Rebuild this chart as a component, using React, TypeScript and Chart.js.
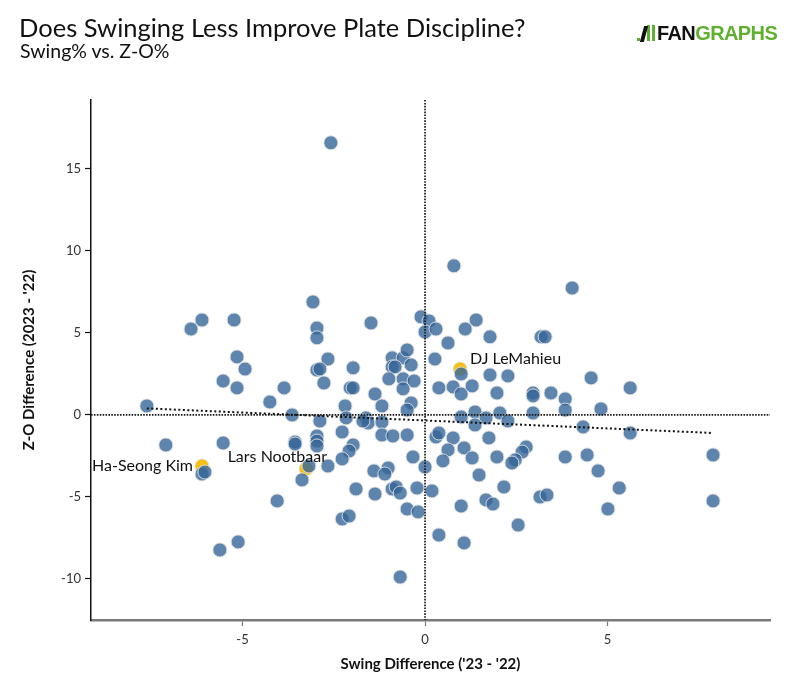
import React, { useEffect, useRef } from "react";
import { Chart, registerables } from "chart.js";

Chart.register(...registerables);

const swingDiff: number[] = [
  -2.58, 0.79, 4.03, -3.07, -6.11, -6.41, -5.23, -1.48, -2.96, -2.96,
  -0.11, 0.11, 0.0, 0.3, 1.1, 1.4, 1.78, 3.18, 3.29, 0.63,
  -5.15, -4.93, -2.66, -2.96, -2.88, -1.97, -0.9, -0.6, -0.49, -0.38,
  -0.9, -0.82, 0.27, -5.53, -5.15, -3.86, -4.25, -2.77, -2.05, -1.97,
  -1.37, -2.19, -1.18, -0.99, -0.6, -0.3, -0.6, -0.38, -0.49, 0.38,
  0.77, 0.99, 0.99, 1.78, 2.27, 4.55, 5.62, 1.29, 1.97, 2.96,
  2.96, 3.45, 3.84, 4.82, 3.84, 0.99, 1.37, 1.67, 2.05, 2.27,
  2.96, 4.33, 5.62, 1.37, -7.62, -3.64, -2.88, -2.16, -1.62, -1.56,
  -1.7, -1.18, -2.27, -1.18, -0.88, -0.49, 0.3, 0.38, 0.77, 1.75,
  -7.1, -5.53, -3.56, -3.56, -2.96, -2.96, -2.96, -1.97, -2.08, -2.27,
  -2.66, -3.18, -3.37, -1.4, -1.01, -1.1, -0.33, 0.0, 0.63, 1.07,
  1.29, 0.49, 1.97, 2.77, 2.66, 2.47, 2.38, 3.84, 4.44, 4.74,
  1.48, 7.89, 7.89, -6.11, -6.03, -1.89, -1.37, -0.9, -0.79, -0.68,
  -0.22, 0.19, 2.16, 1.67, 1.86, 3.15, 3.34, 5.32, 5.01, -4.05,
  -2.27, -2.08, -0.49, -0.19, 0.99, 2.55, 0.38, 1.07, -5.12, -5.62,
  -0.68,
];

const zoDiff: number[] = [
  16.59, 9.09, 7.74, 6.89, 5.79, 5.24, 5.79, 5.61, 5.3, 4.7,
  5.98, 5.73, 5.06, 5.24, 5.24, 5.79, 4.76, 4.76, 4.76, 4.39,
  3.54, 2.8, 3.41, 2.74, 2.8, 2.87, 3.48, 3.48, 3.96, 3.05,
  2.93, 2.93, 3.41, 2.07, 1.65, 1.65, 0.79, 1.95, 1.65, 1.65,
  1.28, 0.55, 0.55, 2.2, 2.2, 2.07, 1.59, 0.73, 0.3, 1.65,
  1.71, 1.28, 2.5, 2.44, 2.38, 2.26, 1.65, 1.77, 1.34, 1.34,
  1.16, 1.34, 0.98, 0.37, 0.3, -0.12, 0.18, -0.18, 0.12, -0.37,
  0.12, -0.73, -1.1, -0.61, 0.55, 0.0, -0.37, -0.18, -0.18, -0.49,
  -0.37, -0.43, -1.04, -1.22, -1.28, -1.22, -1.34, -1.1, -1.4, -1.4,
  -1.83, -1.71, -1.65, -1.77, -1.28, -1.59, -1.89, -1.83, -2.2, -2.68,
  -3.11, -3.11, -3.96, -3.41, -3.23, -3.6, -2.56, -3.17, -2.13, -2.01,
  -2.62, -2.8, -2.56, -1.95, -2.26, -2.74, -2.93, -2.56, -2.44, -3.41,
  -3.66, -2.44, -5.24, -3.6, -3.48, -4.51, -4.82, -4.51, -4.39, -4.76,
  -4.45, -4.63, -4.39, -5.18, -5.43, -5.0, -4.88, -4.45, -5.73, -5.24,
  -6.34, -6.16, -5.73, -5.91, -5.55, -6.71, -7.32, -7.8, -7.74, -8.23,
  -9.88,
];

const highlightNames: string[] = ["DJ LeMahieu", "Lars Nootbaar", "Ha-Seong Kim"];
const highlightSwing: number[] = [0.96, -3.26, -6.11];
const highlightZO: number[] = [2.8, -3.29, -3.11];

const trendX: number[] = [-7.62, 7.89];
const trendY: number[] = [0.4, -1.1];

const xTitle = "Swing Difference ('23 - '22)";
const yTitle = "Z-O Difference (2023 - '22)";
const titleText = "Does Swinging Less Improve Plate Discipline?";
const subtitleText = "Swing% vs. Z-O%";

const FONT = "Lato, 'Noto Sans', sans-serif";

// label placement styles: [dx, dy, align]
const labelStyle: [number, number, CanvasTextAlign][] = [
  [10, -10, "left"],
  [21, -12, "right"],
  [-9, 0, "right"],
];

const overlayPlugin = {
  id: "overlay",
  afterDatasetsDraw(chart: any) {
    const { ctx, chartArea, scales } = chart;
    const xs = scales.x;
    const ys = scales.y;
    ctx.save();
    ctx.strokeStyle = "#1a1a1a";
    ctx.lineWidth = 1.7;
    ctx.setLineDash([1.6, 1.3]);
    const y0 = ys.getPixelForValue(0);
    const x0 = xs.getPixelForValue(0);
    ctx.beginPath();
    ctx.moveTo(chartArea.left, y0);
    ctx.lineTo(chartArea.right, y0);
    ctx.stroke();
    ctx.beginPath();
    ctx.moveTo(x0, chartArea.top);
    ctx.lineTo(x0, chartArea.bottom);
    ctx.stroke();
    ctx.strokeStyle = "#111";
    ctx.lineWidth = 2;
    ctx.setLineDash([2, 2.5]);
    ctx.beginPath();
    ctx.moveTo(xs.getPixelForValue(trendX[0]), ys.getPixelForValue(trendY[0]));
    ctx.lineTo(xs.getPixelForValue(trendX[1]), ys.getPixelForValue(trendY[1]));
    ctx.stroke();
    ctx.setLineDash([]);
    ctx.fillStyle = "#111";
    ctx.font = `16px ${FONT}`;
    ctx.textBaseline = "middle";
    highlightNames.forEach((name, i) => {
      const [dx, dy, align] = labelStyle[i];
      ctx.textAlign = align;
      ctx.fillText(
        name,
        xs.getPixelForValue(highlightSwing[i]) + dx,
        ys.getPixelForValue(highlightZO[i]) + dy
      );
    });
    ctx.restore();
  },
};

export default function App() {
  const canvasRef = useRef<HTMLCanvasElement | null>(null);

  useEffect(() => {
    if (!canvasRef.current) return;
    const blue = swingDiff.map((x, i) => ({ x, y: zoDiff[i] }));
    const gold = highlightSwing.map((x, i) => ({ x, y: highlightZO[i] }));
    const chart = new Chart(canvasRef.current, {
      type: "scatter",
      data: {
        datasets: [
          {
            label: "Players",
            data: blue,
            backgroundColor: "rgba(54,103,153,0.8)",
            borderColor: "rgba(225,225,225,0.9)",
            borderWidth: 1,
            pointRadius: 7,
            order: 0,
          },
          {
            label: "Highlighted",
            data: gold,
            backgroundColor: "rgb(246,192,20)",
            borderColor: "rgba(225,225,225,0.9)",
            borderWidth: 1,
            pointRadius: 7,
            order: 1,
          },
        ],
      },
      options: {
        animation: false,
        responsive: false,
        devicePixelRatio: 1,
        layout: { padding: { top: 100, right: 30, left: 0, bottom: 0 } },
        plugins: {
          legend: { display: false },
          tooltip: { enabled: false },
        },
        scales: {
          x: {
            type: "linear",
            min: -9.15,
            max: 9.45,
            afterFit: (s: any) => {
              s.height = 80;
            },
            border: { display: true, color: "#7a7a7a", width: 2.5 },
            grid: {
              display: true,
              drawOnChartArea: false,
              drawTicks: true,
              tickLength: 6,
              color: "#7a7a7a",
              tickWidth: 1.2,
            },
            ticks: {
              stepSize: 5,
              includeBounds: false,
              padding: 6,
              color: "#333",
              font: { family: FONT, size: 13 },
            },
            title: {
              display: true,
              text: xTitle,
              color: "#111",
              font: { family: FONT, size: 15, weight: "bold" },
              padding: { top: 0, bottom: 27 },
            },
          },
          y: {
            type: "linear",
            min: -12.5,
            max: 19.2,
            afterFit: (s: any) => {
              s.width = 91;
            },
            border: { display: true, color: "#111", width: 1.5 },
            grid: {
              display: true,
              drawOnChartArea: false,
              drawTicks: true,
              tickLength: 6,
              color: "#111",
              tickWidth: 1.2,
            },
            ticks: {
              stepSize: 5,
              includeBounds: false,
              padding: 4,
              color: "#333",
              font: { family: FONT, size: 13 },
            },
            title: {
              display: true,
              text: yTitle,
              color: "#111",
              font: { family: FONT, size: 15, weight: "bold" },
              padding: { top: 20, bottom: 0 },
            },
          },
        },
      },
      plugins: [overlayPlugin],
    } as any);
    return () => chart.destroy();
  }, []);

  return (
    <div
      style={{
        position: "relative",
        width: 800,
        height: 700,
        margin: -8,
        background: "#fff",
        fontFamily: FONT,
        overflow: "hidden",
      }}
    >
      <canvas
        ref={canvasRef}
        width={800}
        height={700}
        style={{ position: "absolute", left: 0, top: 0, width: 800, height: 700 }}
      />
      <div
        style={{
          position: "absolute",
          left: 19,
          top: 11,
          fontSize: 25.5,
          color: "#111",
          whiteSpace: "nowrap",
          lineHeight: "32px",
        }}
      >
        {titleText}
      </div>
      <div
        style={{
          position: "absolute",
          left: 20,
          top: 39,
          fontSize: 19.5,
          color: "#111",
          whiteSpace: "nowrap",
          lineHeight: "24px",
        }}
      >
        {subtitleText}
      </div>
      <div
        style={{
          position: "absolute",
          left: 637,
          top: 21,
          height: 24,
          display: "flex",
          alignItems: "flex-end",
          whiteSpace: "nowrap",
        }}
      >
        <span style={{ display: "inline-block", width: 3, height: 3, background: "#5fb030", marginRight: 2, marginBottom: 4 }} />
        <span style={{ display: "inline-block", width: 4, height: 16, background: "#111", marginRight: 1, marginBottom: 3, transform: "skewX(-15deg)" }} />
        <span style={{ display: "inline-block", width: 3, height: 16, background: "#5fb030", marginRight: 2, marginBottom: 4 }} />
        <span style={{ display: "inline-block", width: 3, height: 16, background: "#5fb030", marginRight: 2, marginBottom: 4 }} />
        <span
          style={{
            fontFamily: "'Liberation Sans', Arial, sans-serif",
            fontWeight: "bold",
            fontSize: 20,
            letterSpacing: -0.6,
            lineHeight: "24px",
          }}
        >
          <span style={{ color: "#111" }}>FAN</span>
          <span style={{ color: "#5fb030" }}>GRAPHS</span>
        </span>
      </div>
    </div>
  );
}
